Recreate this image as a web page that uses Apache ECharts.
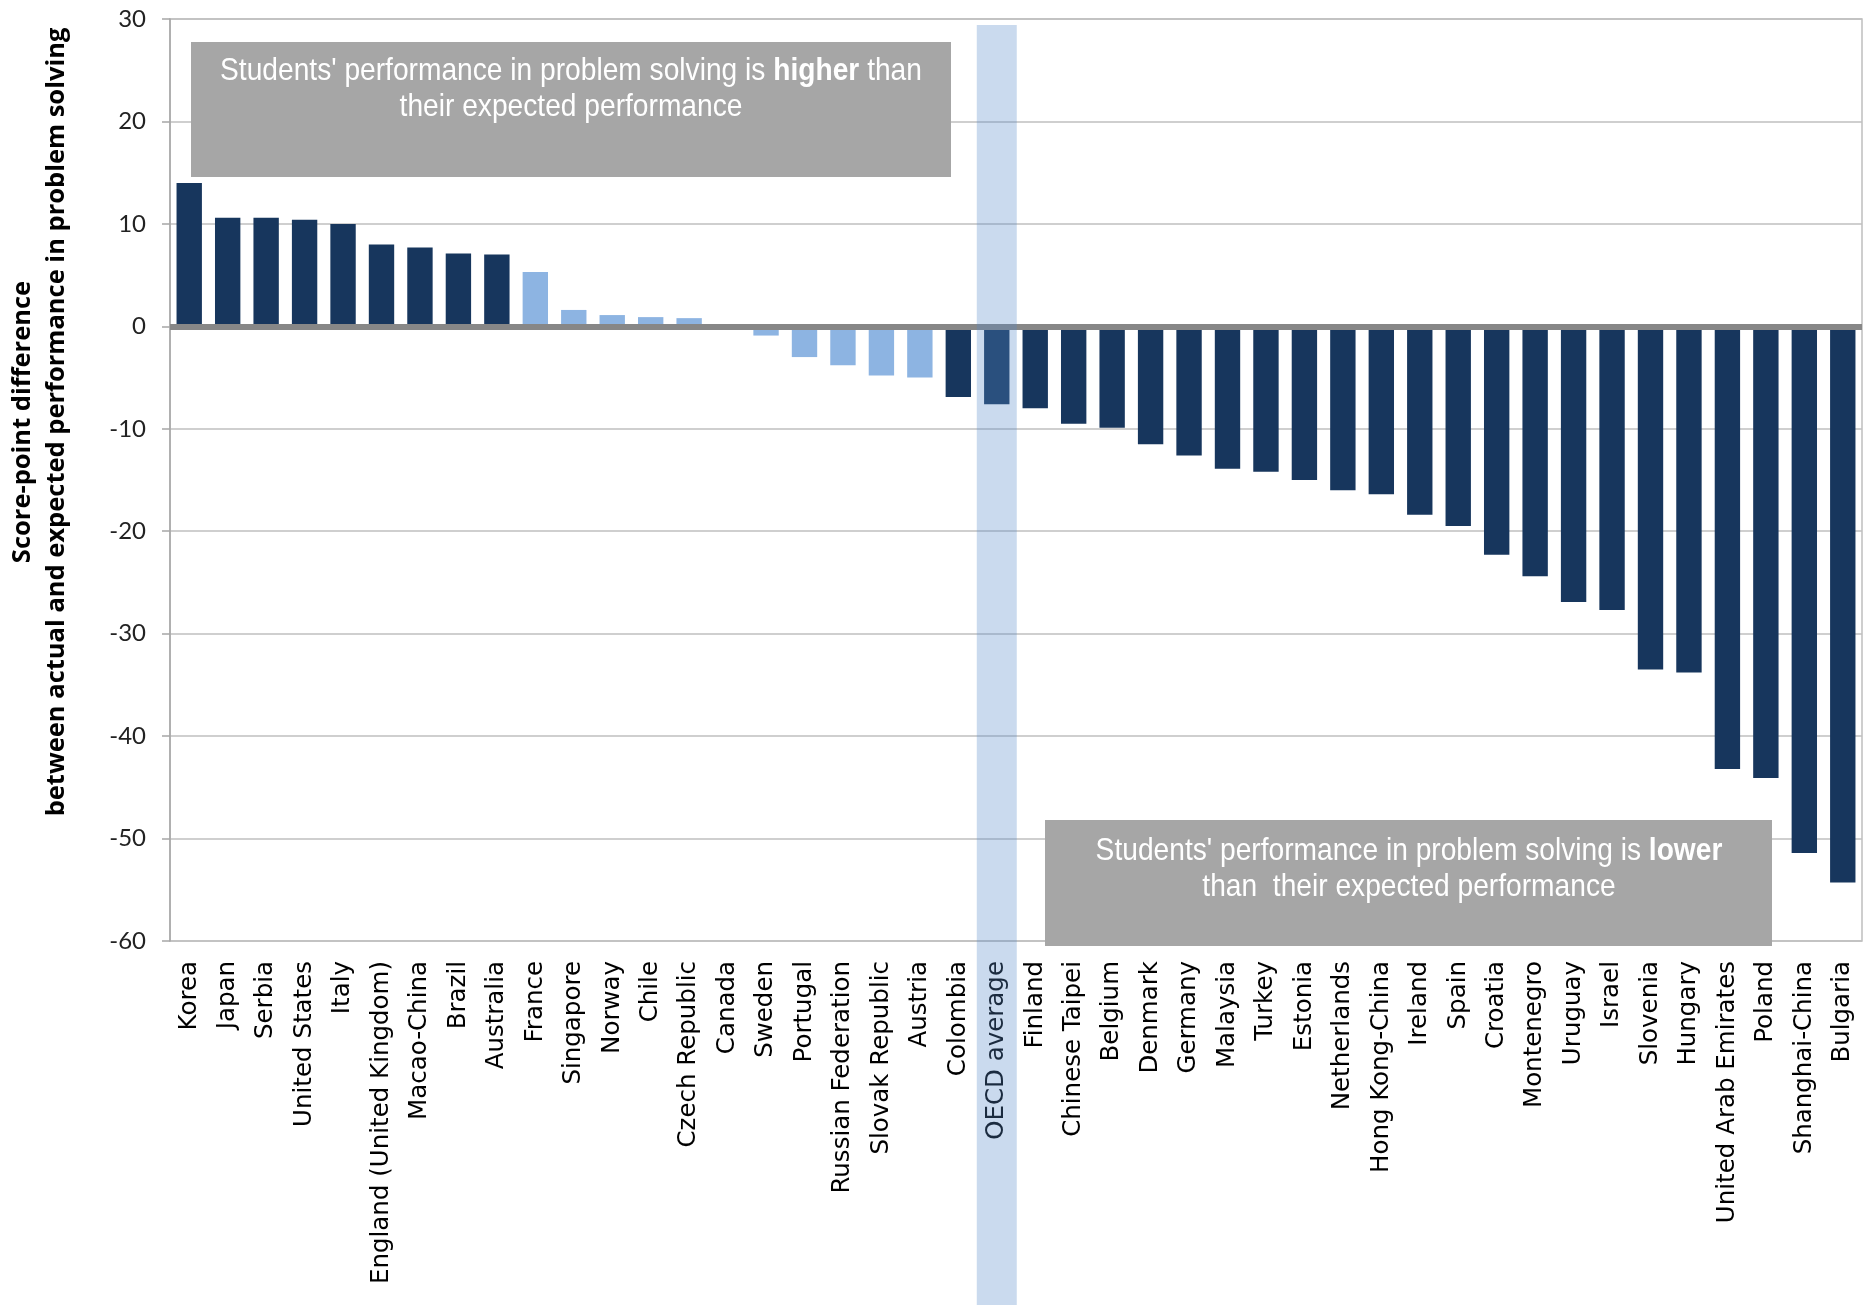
<!DOCTYPE html>
<html>
<head>
<meta charset="utf-8">
<script src="https://cdn.jsdelivr.net/npm/echarts@6/dist/echarts.min.js"></script>
<style>
html,body{margin:0;padding:0;background:#fff;}
#main{width:1864px;height:1305px;}
</style>
</head>
<body>
<div id="main"></div>
<script>
var categories = ["Korea","Japan","Serbia","United States","Italy","England (United Kingdom)","Macao-China","Brazil","Australia","France","Singapore","Norway","Chile","Czech Republic","Canada","Sweden","Portugal","Russian Federation","Slovak Republic","Austria","Colombia","OECD average","Finland","Chinese Taipei","Belgium","Denmark","Germany","Malaysia","Turkey","Estonia","Netherlands","Hong Kong-China","Ireland","Spain","Croatia","Montenegro","Uruguay","Israel","Slovenia","Hungary","United Arab Emirates","Poland","Shanghai-China","Bulgaria"];
var values = [14.0,10.6,10.6,10.4,10.0,8.0,7.7,7.1,7.0,5.3,1.6,1.1,0.9,0.8,0.0,-0.9,-3.0,-3.8,-4.8,-5.0,-6.9,-7.6,-8.0,-9.5,-9.9,-11.5,-12.6,-13.9,-14.2,-15.0,-16.0,-16.4,-18.4,-19.5,-22.3,-24.4,-26.9,-27.7,-33.5,-33.8,-43.2,-44.1,-51.4,-54.3];
// 1 = statistically significant (dark), 0 = not significant (light)
var significant = [1,1,1,1,1,1,1,1,1,0,0,0,0,0,0,0,0,0,0,0,1,1,1,1,1,1,1,1,1,1,1,1,1,1,1,1,1,1,1,1,1,1,1,1];
var yTicks = {min:-60, max:30, interval:10};
var highlightCategory = "OECD average";

var DARK = '#17365D', LIGHT = '#8DB4E2';

var chart = echarts.init(document.getElementById('main'), null, {renderer:'canvas'});
var barData = values.map(function(v,i){
  return {value:v, itemStyle:{color: significant[i] ? DARK : LIGHT}};
});

var option = {
  animation:false,
  backgroundColor:'#fff',
  grid:{left:170,right:2,top:19,bottom:364,show:true,borderColor:'#BFBFBF',borderWidth:1.5},
  xAxis:{
    type:'category', data:categories, position:'bottom',
    axisLine:{show:false}, axisTick:{show:false},
    axisLabel:{interval:0, rotate:90, fontFamily:'DejaVu Sans', fontSize:24.5, color:'#000', margin:20}
  },
  yAxis:{
    type:'value', min:yTicks.min, max:yTicks.max, interval:yTicks.interval,
    axisLine:{show:true, lineStyle:{color:'#A6A6A6', width:1.5}},
    axisTick:{show:true, inside:false, length:8, lineStyle:{color:'#A6A6A6', width:1.5}},
    splitLine:{show:true, lineStyle:{color:'#BFBFBF', width:1.5}},
    axisLabel:{fontFamily:'Lato', fontSize:24, color:'#222', margin:24}
  },
  series:[{
    type:'bar', data:barData, barCategoryGap:'34%',
    markLine:{silent:true, symbol:['none','none'], label:{show:false},
      lineStyle:{color:'#878787', width:6, type:'solid'},
      data:[{yAxis:0}]}
  }]
};
chart.setOption(option);

var cx = chart.convertToPixel({xAxisIndex:0}, highlightCategory);
var narrow = {n:{fontFamily:'Liberation Sans', fontSize:32, fill:'#fff', lineHeight:36},
              b:{fontFamily:'Liberation Sans', fontSize:32, fontWeight:'bold', fill:'#fff', lineHeight:36}};
chart.setOption({
  graphic:[
    {type:'rect', z:100, shape:{x:cx-20, y:25, width:40, height:1305-25}, style:{fill:'rgba(87,137,201,0.315)'}},
    {type:'rect', z:50, shape:{x:191, y:42, width:760, height:135}, style:{fill:'#A6A6A6'}},
    {type:'text', z:51, x:571, y:89, scaleX:0.88, style:{
      text:"{n|Students' performance in problem solving is }{b|higher}{n| than}\n{n|their expected performance}",
      align:'center', verticalAlign:'middle', lineHeight:36, rich:narrow
    }},
    {type:'rect', z:50, shape:{x:1045, y:820, width:727, height:126}, style:{fill:'#A6A6A6'}},
    {type:'text', z:51, x:1409, y:869, scaleX:0.88, style:{
      text:"{n|Students' performance in problem solving is }{b|lower}\n{n|than  their expected performance}",
      align:'center', verticalAlign:'middle', lineHeight:36, rich:narrow
    }},
    {type:'text', z:51, x:40, y:422, rotation:Math.PI/2, style:{
      text:"Score-point difference\nbetween actual and expected performance in problem solving",
      align:'center', verticalAlign:'middle', fontFamily:'Open Sans', fontWeight:'bold', fontSize:25.5, lineHeight:34, fill:'#000'
    }}
  ]
});
</script>
</body>
</html>
